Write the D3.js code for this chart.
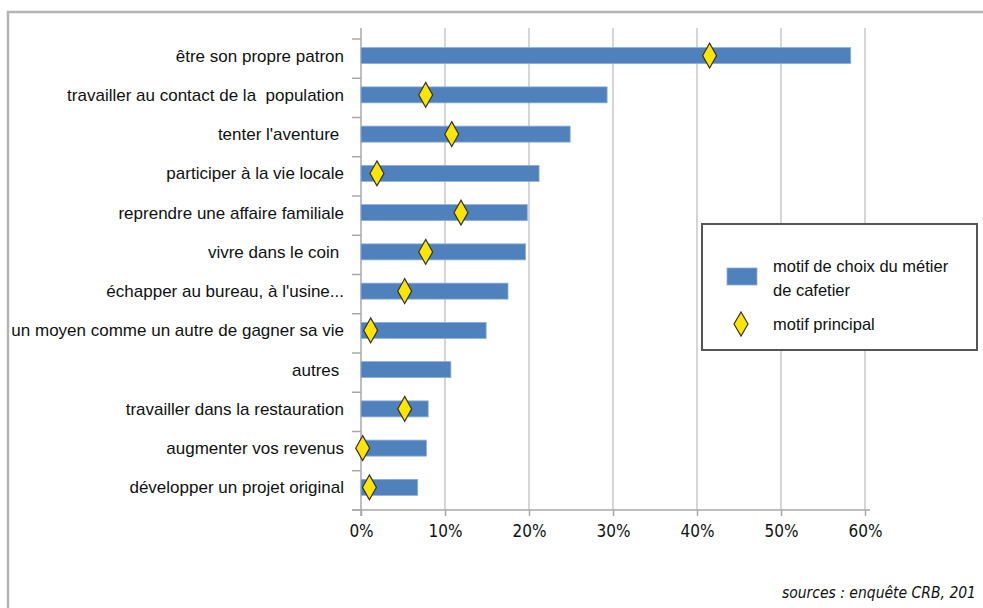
<!DOCTYPE html>
<html>
<head>
<meta charset="utf-8">
<script src="https://cdn.jsdelivr.net/npm/d3@7"></script>
<style>
  html, body { margin: 0; padding: 0; background: #fff; }
  svg { display: block; }
  .cat { font-family: "Liberation Sans", Arial, sans-serif; font-size: 17px; fill: #111; white-space: pre; }
  .tick-lbl { font-family: "Liberation Sans Narrow", "DejaVu Sans Condensed", sans-serif; font-size: 17px; fill: #111; }
  .leg { font-family: "Liberation Sans", Arial, sans-serif; font-size: 16.5px; fill: #111; }
  .src { font-family: "Liberation Sans Narrow", "DejaVu Sans Condensed", sans-serif; font-size: 15.5px; font-style: italic; fill: #111; }
</style>
</head>
<body>
<svg id="chart" width="983" height="608"></svg>
<script>
// ---- data ----
const categories = [
  "être son propre patron",
  "travailler au contact de la  population",
  "tenter l'aventure ",
  "participer à la vie locale",
  "reprendre une affaire familiale",
  "vivre dans le coin ",
  "échapper au bureau, à l'usine...",
  "un moyen comme un autre de gagner sa vie",
  "autres ",
  "travailler dans la restauration",
  "augmenter vos revenus",
  "développer un projet original"
];
const motifChoix = [58.3, 29.3, 24.9, 21.2, 19.8, 19.6, 17.5, 14.9, 10.7, 8.0, 7.8, 6.75];
const motifPrincipal = [41.5, 7.7, 10.8, 1.9, 11.9, 7.7, 5.2, 1.15, null, 5.2, 0.2, 1.0];
const xTicks = [0, 10, 20, 30, 40, 50, 60];
const legendLabels = ["motif de choix du métier", "de cafetier", "motif principal"];
const sourceText = "sources : enquête CRB, 201";

// ---- layout ----
const svg = d3.select("#chart");
const x = d3.scaleLinear().domain([0, 60]).range([361, 865]);
const y = d3.scaleBand().domain(categories).range([39, 510]).padding(0);
const plotTop = 28;
const barH = 16;
const shift = -3; // bars/markers sit slightly above band centre
const cy = c => y(c) + y.bandwidth() / 2 + shift;

// outer frame
svg.append("rect")
  .attr("x", 8).attr("y", 12).attr("width", 1100).attr("height", 800)
  .attr("fill", "none").attr("stroke", "#b4b4b4").attr("stroke-width", 2.5);

// vertical gridlines
svg.append("g").selectAll("line").data(xTicks.slice(1)).join("line")
  .attr("x1", d => x(d)).attr("x2", d => x(d))
  .attr("y1", plotTop).attr("y2", 510)
  .attr("stroke", "#d6d6d6").attr("stroke-width", 2);

// left axis line (0%)
svg.append("line")
  .attr("x1", x(0)).attr("x2", x(0)).attr("y1", plotTop).attr("y2", 516)
  .attr("stroke", "#a8a8a8").attr("stroke-width", 1.5);

// category ticks (band boundaries)
const bounds = categories.map(c => y(c)).concat([y.range()[1]]);
svg.append("g").selectAll("line").data(bounds).join("line")
  .attr("x1", 352).attr("x2", x(0))
  .attr("y1", d => d).attr("y2", d => d)
  .attr("stroke", "#a8a8a8").attr("stroke-width", 1.5);

// bottom axis via d3.axisBottom
const xAxis = d3.axisBottom(x).tickValues(xTicks).tickFormat(d => d + "%").tickSize(6).tickSizeOuter(0);
const gx = svg.append("g").attr("transform", "translate(0,510)").call(xAxis);
gx.select(".domain").attr("stroke", "#a8a8a8").attr("stroke-width", 1.5).attr("d", `M352,0H870`);
gx.selectAll(".tick line").attr("stroke", "#a8a8a8").attr("stroke-width", 1.5);
gx.selectAll(".tick text").attr("class", "tick-lbl").attr("y", 15).attr("dy", "0.71em").attr("fill", "#111");

// bars
svg.append("g").selectAll("rect").data(categories).join("rect")
  .attr("x", x(0))
  .attr("y", c => cy(c) - barH / 2)
  .attr("width", (c, i) => x(motifChoix[i]) - x(0))
  .attr("height", barH)
  .attr("fill", "#4f81bd")
  .attr("stroke", "#8fb0da").attr("stroke-width", 0.8);

// diamonds
const diamond = (w, h) => `M0,${-h/2}L${w/2},0L0,${h/2}L${-w/2},0Z`;
const pts = categories.map((c, i) => ({c, v: motifPrincipal[i]})).filter(d => d.v != null);
svg.append("g").selectAll("path").data(pts).join("path")
  .attr("d", diamond(14, 25))
  .attr("transform", d => `translate(${x(d.v)},${cy(d.c)})`)
  .attr("fill", "#ffe500").attr("stroke", "#333").attr("stroke-width", 1.2);

// category labels
svg.append("g").selectAll("text").data(categories).join("text")
  .attr("class", "cat")
  .attr("x", 344)
  .attr("y", c => cy(c))
  .attr("dy", "0.36em")
  .attr("text-anchor", "end")
  .attr("xml:space", "preserve")
  .text(c => c);

// legend
const lg = svg.append("g");
lg.append("rect").attr("x", 702).attr("y", 224).attr("width", 275).attr("height", 126)
  .attr("fill", "#fff").attr("stroke", "#555").attr("stroke-width", 2);
lg.append("rect").attr("x", 727).attr("y", 268).attr("width", 30).attr("height", 17)
  .attr("fill", "#4f81bd").attr("stroke", "#8fb0da").attr("stroke-width", 0.8);
lg.append("path").attr("d", diamond(14, 24)).attr("transform", "translate(741,324)")
  .attr("fill", "#ffe500").attr("stroke", "#333").attr("stroke-width", 1.2);
lg.append("text").attr("class", "leg").attr("x", 773).attr("y", 272).text(legendLabels[0]);
lg.append("text").attr("class", "leg").attr("x", 773).attr("y", 296).text(legendLabels[1]);
lg.append("text").attr("class", "leg").attr("x", 773).attr("y", 330).text(legendLabels[2]);

// source
svg.append("text").attr("class", "src")
  .attr("x", 976).attr("y", 598).attr("text-anchor", "end").text(sourceText);
</script>
</body>
</html>
